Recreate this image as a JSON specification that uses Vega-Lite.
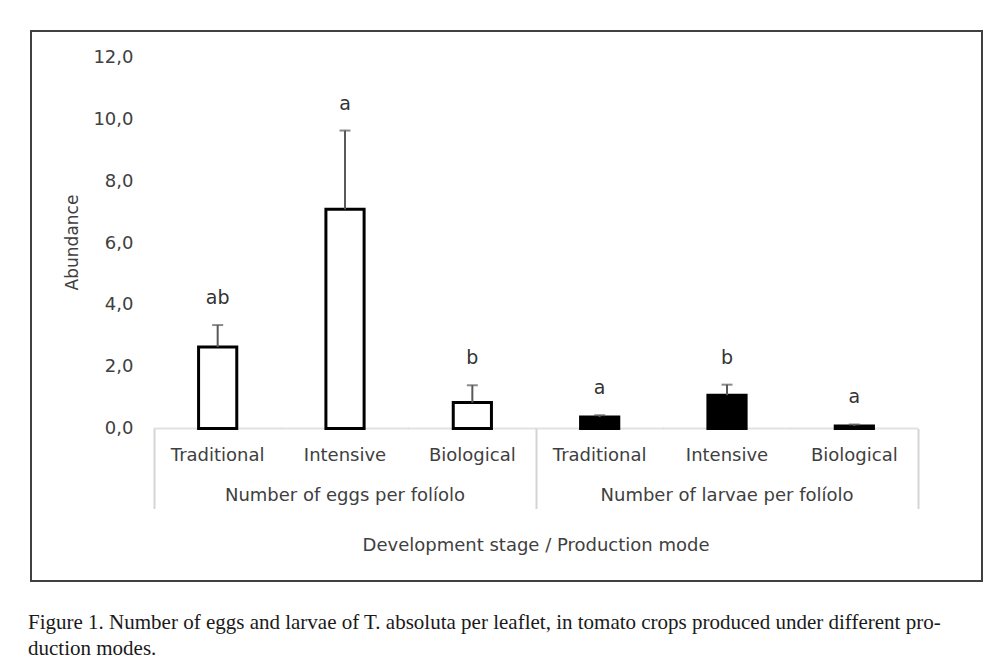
{
  "$schema": "https://vega.github.io/schema/vega-lite/v6.json",
  "width": 951,
  "height": 550,
  "autosize": {"type": "none"},
  "padding": {"left": 31, "top": 31, "right": 21, "bottom": 91},
  "background": "white",
  "config": {
    "view": {"stroke": "#404040", "strokeWidth": 2},
    "font": "DejaVu Sans",
    "axis": {"labelFont": "DejaVu Sans", "titleFont": "DejaVu Sans", "labelColor": "#404040", "titleColor": "#404040", "grid": false}
  },
  "title": {
    "text": ["Figure 1. Number of eggs and larvae of T. absoluta per leaflet, in tomato crops produced under different pro-", "duction modes."],
    "orient": "bottom", "anchor": "start", "frame": "group",
    "font": "Liberation Serif", "fontSize": 21, "fontWeight": "normal", "color": "#1a1a1a",
    "lineHeight": 26, "offset": 31, "baseline": "top", "dx": -3
  },
  "data": {
    "values": [
      {"stage": "eggs", "mode": "Traditional", "cat": "eggs|Traditional", "mean": 2.64, "upper": 3.35, "letter": "ab"},
      {"stage": "eggs", "mode": "Intensive", "cat": "eggs|Intensive", "mean": 7.1, "upper": 9.65, "letter": "a"},
      {"stage": "eggs", "mode": "Biological", "cat": "eggs|Biological", "mean": 0.84, "upper": 1.4, "letter": "b"},
      {"stage": "larvae", "mode": "Traditional", "cat": "larvae|Traditional", "mean": 0.37, "upper": 0.43, "letter": "a"},
      {"stage": "larvae", "mode": "Intensive", "cat": "larvae|Intensive", "mean": 1.08, "upper": 1.42, "letter": "b"},
      {"stage": "larvae", "mode": "Biological", "cat": "larvae|Biological", "mean": 0.08, "upper": 0.13, "letter": "a"}
    ]
  },
  "layer": [
    {
      "mark": {"type": "tick", "size": 128, "thickness": 2, "color": "#d4d4d4", "orient": "horizontal"},
      "encoding": {
        "x": {"field": "cat", "type": "nominal", "sort": null,
              "scale": {"domain": ["eggs|Traditional", "eggs|Intensive", "eggs|Biological", "larvae|Traditional", "larvae|Intensive", "larvae|Biological"], "paddingInner": 0, "paddingOuter": 0.7343, "align": 0.6578},
              "axis": null},
        "y": {"datum": 0, "type": "quantitative", "scale": {"domain": [-4.939, 12.874], "nice": false, "zero": false}, "axis": null}
      }
    },
    {
      "mark": {"type": "bar", "width": {"band": 0.3}, "stroke": "black", "strokeWidth": 3},
      "encoding": {
        "x": {"field": "cat", "type": "nominal", "sort": null,
              "axis": {"orient": "bottom", "offset": -152.5, "domain": false, "ticks": false, "tickSize": 0,
                       "labelExpr": "split(datum.value, '|')[1]", "labelAngle": 0, "labelPadding": 18, "labelFontSize": 18, "title": null}},
        "y": {"field": "mean", "type": "quantitative",
              "scale": {"domain": [-4.939, 12.874], "nice": false, "zero": false},
              "axis": {"orient": "left", "values": [0, 2, 4, 6, 8, 10, 12], "labelExpr": "replace(format(datum.value, '.1f'), '.', ',')",
                       "domain": false, "ticks": false, "tickSize": 0, "offset": -123, "labelPadding": 21, "labelFontSize": 18,
                       "title": "Abundance", "titleFontSize": 17, "titleFontWeight": "normal", "titlePadding": 11, "titleY": 211}},
        "y2": {"datum": 0},
        "fill": {"field": "stage", "type": "nominal", "scale": {"domain": ["eggs", "larvae"], "range": ["white", "black"]}, "legend": null}
      }
    },
    {
      "mark": {"type": "rule", "color": "#595959", "strokeWidth": 2},
      "encoding": {
        "x": {"field": "cat", "type": "nominal", "sort": null,
              "axis": {"orient": "bottom", "offset": -152.5, "values": ["eggs|Intensive", "larvae|Intensive"],
                       "domain": false, "ticks": false, "tickSize": 0,
                       "labelExpr": "datum.value == 'eggs|Intensive' ? 'Number of eggs per folíolo' : 'Number of larvae per folíolo'",
                       "labelAngle": 0, "labelPadding": 58, "labelFontSize": 18, "labelLimit": 400,
                       "title": "Development stage / Production mode", "titleFontSize": 18, "titleFontWeight": "normal",
                       "titlePadding": 32, "titleX": 504.5}},
        "y": {"field": "mean", "type": "quantitative", "axis": null},
        "y2": {"field": "upper"}
      }
    },
    {
      "mark": {"type": "tick", "size": 11, "thickness": 2, "color": "#595959", "orient": "horizontal"},
      "encoding": {
        "x": {"field": "cat", "type": "nominal", "sort": null,
              "axis": {"orient": "bottom", "offset": -152.5, "values": ["eggs|Traditional", "larvae|Traditional"], "bandPosition": 0,
                       "domain": false, "labels": false, "ticks": true, "tickSize": 80, "tickColor": "#d4d4d4", "tickWidth": 2, "title": null}},
        "y": {"field": "upper", "type": "quantitative", "axis": null}
      }
    },
    {
      "mark": {"type": "text", "fontSize": 19, "color": "#333333", "baseline": "alphabetic", "dy": -21, "font": "DejaVu Sans"},
      "encoding": {
        "x": {"field": "cat", "type": "nominal", "sort": null,
              "axis": {"orient": "bottom", "offset": -152.5, "values": ["larvae|Biological"], "bandPosition": 1,
                       "domain": false, "labels": false, "ticks": true, "tickSize": 80, "tickColor": "#d4d4d4", "tickWidth": 2, "title": null}},
        "y": {"field": "upper", "type": "quantitative", "axis": null},
        "text": {"field": "letter"}
      }
    }
  ],
  "resolve": {"axis": {"x": "independent", "y": "independent"}}
}
